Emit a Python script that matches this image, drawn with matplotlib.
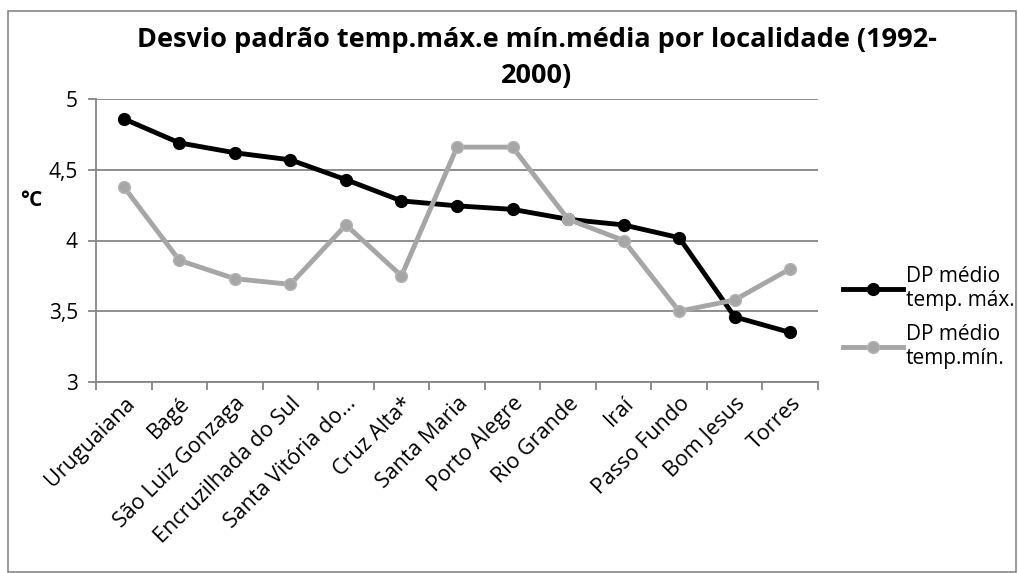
from matplotlib import pyplot as plt
from matplotlib.patches import Rectangle

locais = ['Uruguaiana', 'Bagé', 'São Luiz Gonzaga', 'Encruzilhada do Sul',
          'Santa Vitória do...', 'Cruz Alta*', 'Santa Maria', 'Porto Alegre',
          'Rio Grande', 'Iraí', 'Passo Fundo', 'Bom Jesus', 'Torres']
dp_max = [4.86, 4.69, 4.62, 4.57, 4.43, 4.28, 4.245, 4.22, 4.15, 4.11, 4.02, 3.46, 3.35]
dp_min = [4.38, 3.86, 3.73, 3.69, 4.11, 3.75, 4.66, 4.66, 4.15, 4.00, 3.50, 3.58, 3.80]
y_ticks = [3, 3.5, 4, 4.5, 5]
y_labels = ['3', '3,5', '4', '4,5', '5']

plt.rcParams['font.family'] = ['Open Sans', 'DejaVu Sans']
grid_c = '#868686'

fig = plt.figure(figsize=(10.18, 5.73), dpi=100)
ax = fig.add_axes([96/1018, 1 - 382/573, 722/1018, 283/573])

# outer chart border
fig.patches.append(Rectangle((8/1018, 0.002), 1 - 8/1018 - 0.002, 1 - 11/573 - 0.002,
                             transform=fig.transFigure, fill=False,
                             edgecolor=grid_c, lw=1.2))

x = list(range(len(locais)))
ax.plot(x, dp_max, color='black', lw=3.5, marker='o', ms=8.5,
        label='DP médio\ntemp. máx.', zorder=3)
ax.plot(x, dp_min, color='#A6A6A6', lw=3.5, marker='o', ms=8.5,
        mfc='#A6A6A6', mec='#B4B4B4', label='DP médio\ntemp.mín.', zorder=3)

ax.set_xlim(-0.5, len(locais) - 0.5)
ax.set_ylim(3, 5)
ax.set_yticks(y_ticks)
ax.set_yticklabels(y_labels, fontsize=15)
ax.yaxis.grid(True, color=grid_c, lw=1.3)
ax.set_axisbelow(True)

ax.set_xticks([i - 0.5 for i in range(len(locais) + 1)])
ax.set_xticklabels([])
ax.set_xticks(x, minor=True)
ax.set_xticklabels(locais, minor=True, rotation=45, ha='right',
                   rotation_mode='anchor', fontsize=15.5)
ax.tick_params(axis='x', which='minor', length=0, pad=8)
ax.tick_params(axis='x', which='major', length=6, color=grid_c, width=1.3)
ax.tick_params(axis='y', length=6, color=grid_c, width=1.3, pad=7)

for s in ['top', 'right']:
    ax.spines[s].set_visible(False)
for s in ['left', 'bottom']:
    ax.spines[s].set_color(grid_c)
    ax.spines[s].set_linewidth(1.3)

fig.text(20/1018, 1 - 200/573, '°C', fontsize=15, fontweight='bold',
         va='center', ha='left')

fig.text(0.527, 1 - 40/573, 'Desvio padrão temp.máx.e mín.média por localidade (1992-',
         fontsize=19.5, fontweight='bold', ha='center', va='center')
fig.text(0.527, 1 - 76/573, '2000)', fontsize=19.5, fontweight='bold',
         ha='center', va='center')

ax.legend(loc='upper left', bbox_to_anchor=(843/1018, 1 - 266/573),
          bbox_transform=fig.transFigure, frameon=False, fontsize=15,
          handlelength=2.9, handletextpad=0.1, labelspacing=0.6,
          borderaxespad=0, borderpad=0)

plt.savefig('out.png', dpi=100)
